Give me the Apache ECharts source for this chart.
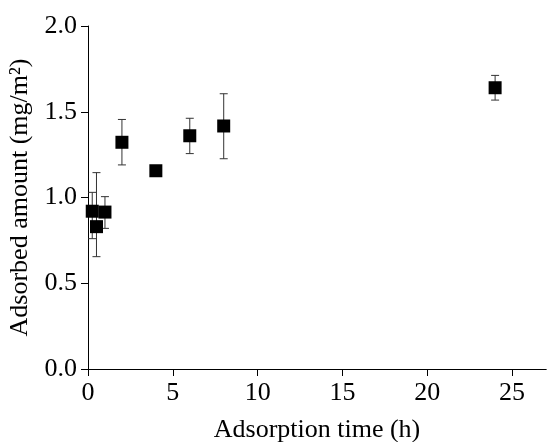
<!DOCTYPE html>
<html>
<head>
<meta charset="utf-8">
<script src="https://cdn.jsdelivr.net/npm/echarts@6/dist/echarts.min.js"></script>
<style>
  html, body { margin: 0; padding: 0; background: #fff; }
  #chart { width: 547px; height: 442px; }
</style>
</head>
<body>
<div id="chart"></div>
<script>
  // adsorption time (h)
  var times = [0.25, 0.5, 1, 2, 4, 6, 8, 24]
  // adsorbed amount (mg/m2)
  var amounts = [0.92, 0.83, 0.915, 1.322, 1.156, 1.36, 1.417, 1.64]
  var errLow = [0.76, 0.655, 0.82, 1.19, 1.14, 1.256, 1.226, 1.568]
  var errHigh = [1.03, 1.145, 1.005, 1.455, 1.17, 1.462, 1.605, 1.712]
  var xTicks = [0, 5, 10, 15, 20, 25]

  var fontFamily = '"Liberation Serif", "Times New Roman", serif'

  var points = times.map(function (t, i) { return [t, amounts[i]] })
  var bars = times.map(function (t, i) { return [t, errLow[i], errHigh[i]] })

  var chart = echarts.init(document.getElementById('chart'))
  chart.setOption({
    animation: false,
    grid: { left: 88, right: 1, top: 26, bottom: 73, outerBoundsMode: 'none', containLabel: false },
    xAxis: [
      {
        type: 'value',
        min: 0,
        max: 27,
        interval: 5,
        name: 'Adsorption time (h)',
        nameLocation: 'middle',
        nameGap: 48,
        nameTextStyle: { fontFamily: fontFamily, fontSize: 26, color: '#000' },
        axisLine: { show: true, onZero: false, lineStyle: { color: '#000', width: 1 } },
        axisTick: { show: true, inside: false, length: 7, customValues: xTicks, lineStyle: { color: '#000' } },
        axisLabel: {
          customValues: xTicks,
          margin: 11,
          fontFamily: fontFamily,
          fontSize: 26,
          color: '#000'
        },
        splitLine: { show: false }
      },
      {
        // top frame line
        type: 'value',
        position: 'top',
        min: 0,
        max: 27,
        axisLine: { show: true, lineStyle: { color: '#000', width: 1 } },
        axisTick: { show: false },
        axisLabel: { show: false },
        splitLine: { show: false }
      }
    ],
    yAxis: {
      type: 'value',
      min: 0,
      max: 2,
      interval: 0.5,
      name: 'Adsorbed amount (mg/m²)',
      nameLocation: 'middle',
      nameGap: 50,
      nameTextStyle: { fontFamily: fontFamily, fontSize: 26, color: '#000' },
      axisLine: { show: true, lineStyle: { color: '#000', width: 1 } },
      axisTick: { show: true, inside: false, length: 7, lineStyle: { color: '#000' } },
      axisLabel: {
        margin: 11,
        fontFamily: fontFamily,
        fontSize: 26,
        color: '#000',
        formatter: function (v) { return v.toFixed(1) }
      },
      splitLine: { show: false }
    },
    series: [
      {
        // error bars
        type: 'custom',
        data: bars,
        z: 2,
        renderItem: function (params, api) {
          var x = api.value(0)
          var lo = api.coord([x, api.value(1)])
          var hi = api.coord([x, api.value(2)])
          var half = 4
          var style = { stroke: '#333', lineWidth: 1 }
          return {
            type: 'group',
            children: [
              { type: 'line', shape: { x1: hi[0], y1: hi[1], x2: lo[0], y2: lo[1] }, style: style },
              { type: 'line', shape: { x1: hi[0] - half, y1: hi[1], x2: hi[0] + half, y2: hi[1] }, style: style },
              { type: 'line', shape: { x1: lo[0] - half, y1: lo[1], x2: lo[0] + half, y2: lo[1] }, style: style }
            ]
          }
        }
      },
      {
        type: 'scatter',
        data: points,
        symbol: 'rect',
        symbolSize: 13,
        z: 3,
        itemStyle: { color: '#000', opacity: 1 }
      }
    ]
  })
</script>
</body>
</html>
